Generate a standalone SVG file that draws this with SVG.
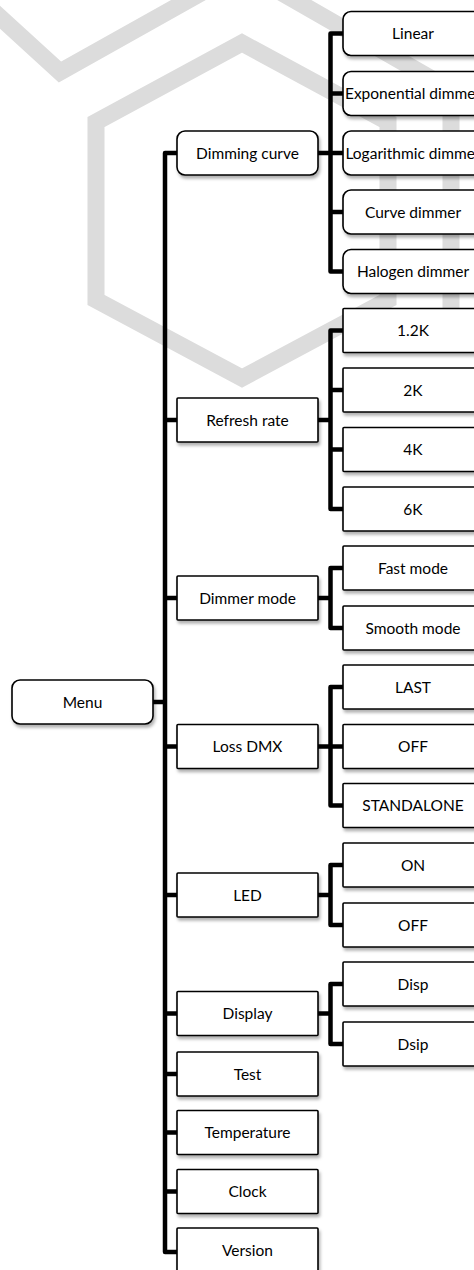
<svg xmlns="http://www.w3.org/2000/svg" width="474" height="1270" viewBox="0 0 474 1270">
<style>
.wm{fill:none;stroke:#dcdcdc;stroke-width:17;stroke-linejoin:miter}
.box{fill:#fff;stroke:#000;stroke-width:1.6;filter:url(#sh)}
.t{font-family:Lato,"Open Sans","Liberation Sans",sans-serif;font-size:15.5px;fill:#000;text-anchor:middle}
.c{fill:none;stroke:#000;stroke-width:4.5;stroke-linejoin:round;stroke-linecap:butt}
</style>
<defs>
<filter id="sh" x="-10%" y="-20%" width="130%" height="150%">
<feDropShadow dx="1.5" dy="3" stdDeviation="1.8" flood-color="#000" flood-opacity="0.3"/>
</filter>
</defs>
<rect width="474" height="1270" fill="#fff"/>
<g id="watermark">
<path class="wm" d="M-8,10 L60,72 L242,-30 L451,90 L451,318"/>
<path class="wm" d="M242,43 L388,122 L388,300 L242,378 L96,300 L96,122 Z"/>
</g>
<g id="connectors">
<path class="c" d="M177,153 H165 V1252 H177"/>
<path class="c" d="M153,702 H165 M165,420 H177 M165,598 H177 M165,746.5 H177 M165,895 H177 M165,1013.5 H177 M165,1074 H177 M165,1132.5 H177 M165,1191.5 H177"/>
<path class="c" d="M318,153 H330.5 M343,33.5 H330.5 V271.5 H343 M330.5,93.5 H343 M330.5,153 H343 M330.5,212 H343"/>
<path class="c" d="M318,420 H330.5 M343,330.5 H330.5 V509 H343 M330.5,390 H343 M330.5,449.5 H343"/>
<path class="c" d="M318,598 H330.5 M343,568 H330.5 V628 H343"/>
<path class="c" d="M318,746.5 H330.5 M343,687 H330.5 V805.5 H343 M330.5,746.5 H343"/>
<path class="c" d="M318,895 H330.5 M343,865 H330.5 V925 H343"/>
<path class="c" d="M318,1013.5 H330.5 M343,984 H330.5 V1044 H343"/>
</g>
<g id="menu"><rect class="box" x="12" y="680" width="141" height="44" rx="8"/><text class="t" x="82.5" y="707.5">Menu</text></g>
<g id="dimming-curve"><rect class="box" x="177" y="131" width="141" height="44" rx="8"/><text class="t" x="247.5" y="158.5">Dimming curve</text></g>
<g id="linear"><rect class="box" x="343" y="11.5" width="140" height="44" rx="8"/><text class="t" x="413" y="39">Linear</text></g>
<g id="exponential"><rect class="box" x="343" y="71.5" width="140" height="44" rx="8"/><text class="t" x="413" y="99">Exponential dimmer</text></g>
<g id="logarithmic"><rect class="box" x="343" y="131" width="140" height="44" rx="8"/><text class="t" x="413" y="158.5">Logarithmic dimmer</text></g>
<g id="curve-dimmer"><rect class="box" x="343" y="190" width="140" height="44" rx="8"/><text class="t" x="413" y="217.5">Curve dimmer</text></g>
<g id="halogen"><rect class="box" x="343" y="249.5" width="140" height="44" rx="8"/><text class="t" x="413" y="277">Halogen dimmer</text></g>
<g id="refresh-rate"><rect class="box" x="177" y="398" width="141" height="44" rx="1"/><text class="t" x="247.5" y="425.5">Refresh rate</text></g>
<g id="r12k"><rect class="box" x="343" y="308.5" width="140" height="44" rx="1"/><text class="t" x="413" y="336">1.2K</text></g>
<g id="r2k"><rect class="box" x="343" y="368" width="140" height="44" rx="1"/><text class="t" x="413" y="395.5">2K</text></g>
<g id="r4k"><rect class="box" x="343" y="427.5" width="140" height="44" rx="1"/><text class="t" x="413" y="455">4K</text></g>
<g id="r6k"><rect class="box" x="343" y="487" width="140" height="44" rx="1"/><text class="t" x="413" y="514.5">6K</text></g>
<g id="dimmer-mode"><rect class="box" x="177" y="576" width="141" height="44" rx="1"/><text class="t" x="247.5" y="603.5">Dimmer mode</text></g>
<g id="fast-mode"><rect class="box" x="343" y="546" width="140" height="44" rx="1"/><text class="t" x="413" y="573.5">Fast mode</text></g>
<g id="smooth-mode"><rect class="box" x="343" y="606" width="140" height="44" rx="1"/><text class="t" x="413" y="633.5">Smooth mode</text></g>
<g id="loss-dmx"><rect class="box" x="177" y="724.5" width="141" height="44" rx="1"/><text class="t" x="247.5" y="752">Loss DMX</text></g>
<g id="last"><rect class="box" x="343" y="665" width="140" height="44" rx="1"/><text class="t" x="413" y="692.5">LAST</text></g>
<g id="loss-off"><rect class="box" x="343" y="724.5" width="140" height="44" rx="1"/><text class="t" x="413" y="752">OFF</text></g>
<g id="standalone"><rect class="box" x="343" y="783.5" width="140" height="44" rx="1"/><text class="t" x="413" y="811">STANDALONE</text></g>
<g id="led"><rect class="box" x="177" y="873" width="141" height="44" rx="1"/><text class="t" x="247.5" y="900.5">LED</text></g>
<g id="led-on"><rect class="box" x="343" y="843" width="140" height="44" rx="1"/><text class="t" x="413" y="870.5">ON</text></g>
<g id="led-off"><rect class="box" x="343" y="903" width="140" height="44" rx="1"/><text class="t" x="413" y="930.5">OFF</text></g>
<g id="display"><rect class="box" x="177" y="991.5" width="141" height="44" rx="1"/><text class="t" x="247.5" y="1019">Display</text></g>
<g id="disp"><rect class="box" x="343" y="962" width="140" height="44" rx="1"/><text class="t" x="413" y="989.5">Disp</text></g>
<g id="dsip"><rect class="box" x="343" y="1022" width="140" height="44" rx="1"/><text class="t" x="413" y="1049.5">Dsip</text></g>
<g id="test"><rect class="box" x="177" y="1052" width="141" height="44" rx="1"/><text class="t" x="247.5" y="1079.5">Test</text></g>
<g id="temperature"><rect class="box" x="177" y="1110.5" width="141" height="44" rx="1"/><text class="t" x="247.5" y="1138">Temperature</text></g>
<g id="clock"><rect class="box" x="177" y="1169.5" width="141" height="44" rx="1"/><text class="t" x="247.5" y="1197">Clock</text></g>
<g id="version"><rect class="box" x="177" y="1228" width="141" height="44" rx="1"/><text class="t" x="247.5" y="1255.5">Version</text></g>
</svg>
